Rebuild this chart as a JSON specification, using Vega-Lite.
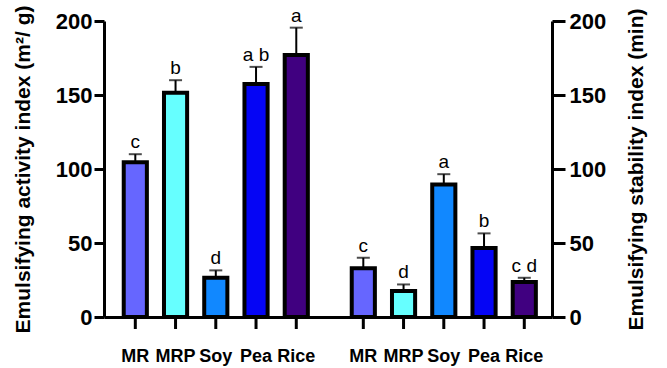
{
  "$schema": "https://vega.github.io/schema/vega-lite/v6.json",
  "padding": {"left": 12, "top": 5, "right": 5, "bottom": 2},
  "width": 448,
  "height": 296,
  "data": {"values": [
    {"index": "EAI", "sample": "MR", "value": 104.5, "upper": 110, "letter": "c"},
    {"index": "EAI", "sample": "MRP", "value": 151.5, "upper": 160, "letter": "b"},
    {"index": "EAI", "sample": "Soy", "value": 26.5, "upper": 31.5, "letter": "d"},
    {"index": "EAI", "sample": "Pea", "value": 157.5, "upper": 169, "letter": "a b"},
    {"index": "EAI", "sample": "Rice", "value": 177, "upper": 195.5, "letter": "a"},
    {"index": "ESI", "sample": "MR", "value": 33, "upper": 40, "letter": "c"},
    {"index": "ESI", "sample": "MRP", "value": 17.5, "upper": 22, "letter": "d"},
    {"index": "ESI", "sample": "Soy", "value": 89.5, "upper": 96.5, "letter": "a"},
    {"index": "ESI", "sample": "Pea", "value": 46.6, "upper": 56.5, "letter": "b"},
    {"index": "ESI", "sample": "Rice", "value": 23.6, "upper": 26.5, "letter": "c d"}
  ]},
  "config": {
    "view": {"stroke": null},
    "font": "Liberation Sans",
    "axis": {
      "grid": false,
      "domainColor": "black", "domainWidth": 3,
      "tickColor": "black", "tickWidth": 3,
      "labelColor": "black", "labelFontWeight": "bold", "labelFont": "Liberation Sans",
      "titleColor": "black", "titleFontWeight": "bold", "titleFont": "Liberation Sans"
    },
    "axisY": {"labelFontSize": 22, "titleFontSize": 21}
  },
  "encoding": {
    "x": {"field": "index", "type": "nominal",
      "scale": {"domain": ["EAI", "ESI"], "paddingInner": 0.1925, "paddingOuter": 0.0787, "align": 0.55},
      "axis": {"title": null, "ticks": false, "labels": false}},
    "xOffset": {"field": "sample", "type": "nominal",
      "scale": {"domain": ["MR", "MRP", "Soy", "Pea", "Rice"], "paddingInner": 0.425, "paddingOuter": 0}}
  },
  "layer": [
    {
      "transform": [{"filter": "datum.index == 'EAI'"}],
      "layer": [
        {"mark": {"type": "rule", "strokeWidth": 2, "color": "black"},
         "encoding": {
           "y": {"field": "value", "type": "quantitative", "scale": {"domain": [0, 200], "nice": false},
             "axis": {"orient": "left", "title": "Emulsifying activity index (m²/ g)", "values": [0, 50, 100, 150, 200], "tickSize": 10, "labelPadding": 2, "titlePadding": 22}},
           "y2": {"field": "upper"}}},
        {"mark": {"type": "bar", "stroke": "black", "strokeWidth": 4},
         "encoding": {
           "y": {"field": "value", "type": "quantitative",
             "axis": {"orient": "left", "title": "Emulsifying activity index (m²/ g)", "values": [0, 50, 100, 150, 200], "tickSize": 10, "labelPadding": 2, "titlePadding": 22}},
           "color": {"field": "sample", "type": "nominal", "legend": null,
             "scale": {"domain": ["MR", "MRP", "Soy", "Pea", "Rice"], "range": ["#6666ff", "#66ffff", "#1188ff", "#0505f5", "#400080"]}}}},
        {"mark": {"type": "tick", "thickness": 2, "color": "black"},
         "encoding": {
           "y": {"field": "upper", "type": "quantitative",
             "axis": {"orient": "left", "title": "Emulsifying activity index (m²/ g)", "values": [0, 50, 100, 150, 200], "tickSize": 10, "labelPadding": 2, "titlePadding": 22}},
           "size": {"value": 13}}},
        {"mark": {"type": "text", "baseline": "bottom", "dy": -2, "fontSize": 19, "color": "black"},
         "encoding": {
           "y": {"field": "upper", "type": "quantitative",
             "axis": {"orient": "left", "title": "Emulsifying activity index (m²/ g)", "values": [0, 50, 100, 150, 200], "tickSize": 10, "labelPadding": 2, "titlePadding": 22}},
           "text": {"field": "letter"}}},
        {"mark": {"type": "rule", "strokeWidth": 3, "color": "black"},
         "encoding": {
           "y": {"datum": 0, "type": "quantitative",
             "axis": {"orient": "left", "title": "Emulsifying activity index (m²/ g)", "values": [0, 50, 100, 150, 200], "tickSize": 10, "labelPadding": 2, "titlePadding": 22}},
           "y2": {"datum": -8.1}}},
        {"mark": {"type": "text", "baseline": "top", "dy": 31, "fontSize": 18, "fontWeight": "bold", "color": "black"},
         "encoding": {
           "y": {"datum": 0, "type": "quantitative",
             "axis": {"orient": "left", "title": "Emulsifying activity index (m²/ g)", "values": [0, 50, 100, 150, 200], "tickSize": 10, "labelPadding": 2, "titlePadding": 22}},
           "text": {"field": "sample"}}}
      ]
    },
    {
      "transform": [{"filter": "datum.index == 'ESI'"}],
      "layer": [
        {"mark": {"type": "rule", "strokeWidth": 2, "color": "black"},
         "encoding": {
           "y": {"field": "value", "type": "quantitative", "scale": {"domain": [0, 200], "nice": false},
             "axis": {"orient": "right", "title": "Emulsifying stability index (min)", "values": [0, 50, 100, 150, 200], "tickSize": 13, "labelPadding": 4, "titlePadding": 20, "titleAngle": 270, "titleBaseline": "top"}},
           "y2": {"field": "upper"}}},
        {"mark": {"type": "bar", "stroke": "black", "strokeWidth": 4},
         "encoding": {
           "y": {"field": "value", "type": "quantitative",
             "axis": {"orient": "right", "title": "Emulsifying stability index (min)", "values": [0, 50, 100, 150, 200], "tickSize": 13, "labelPadding": 4, "titlePadding": 20, "titleAngle": 270, "titleBaseline": "top"}},
           "color": {"field": "sample", "type": "nominal", "legend": null,
             "scale": {"domain": ["MR", "MRP", "Soy", "Pea", "Rice"], "range": ["#6666ff", "#66ffff", "#1188ff", "#0505f5", "#400080"]}}}},
        {"mark": {"type": "tick", "thickness": 2, "color": "black"},
         "encoding": {
           "y": {"field": "upper", "type": "quantitative",
             "axis": {"orient": "right", "title": "Emulsifying stability index (min)", "values": [0, 50, 100, 150, 200], "tickSize": 13, "labelPadding": 4, "titlePadding": 20, "titleAngle": 270, "titleBaseline": "top"}},
           "size": {"value": 13}}},
        {"mark": {"type": "text", "baseline": "bottom", "dy": -2, "fontSize": 19, "color": "black"},
         "encoding": {
           "y": {"field": "upper", "type": "quantitative",
             "axis": {"orient": "right", "title": "Emulsifying stability index (min)", "values": [0, 50, 100, 150, 200], "tickSize": 13, "labelPadding": 4, "titlePadding": 20, "titleAngle": 270, "titleBaseline": "top"}},
           "text": {"field": "letter"}}},
        {"mark": {"type": "rule", "strokeWidth": 3, "color": "black"},
         "encoding": {
           "y": {"datum": 0, "type": "quantitative",
             "axis": {"orient": "right", "title": "Emulsifying stability index (min)", "values": [0, 50, 100, 150, 200], "tickSize": 13, "labelPadding": 4, "titlePadding": 20, "titleAngle": 270, "titleBaseline": "top"}},
           "y2": {"datum": -8.1}}},
        {"mark": {"type": "text", "baseline": "top", "dy": 31, "fontSize": 18, "fontWeight": "bold", "color": "black"},
         "encoding": {
           "y": {"datum": 0, "type": "quantitative",
             "axis": {"orient": "right", "title": "Emulsifying stability index (min)", "values": [0, 50, 100, 150, 200], "tickSize": 13, "labelPadding": 4, "titlePadding": 20, "titleAngle": 270, "titleBaseline": "top"}},
           "text": {"field": "sample"}}}
      ]
    }
  ],
  "resolve": {"scale": {"y": "independent"}}
}
